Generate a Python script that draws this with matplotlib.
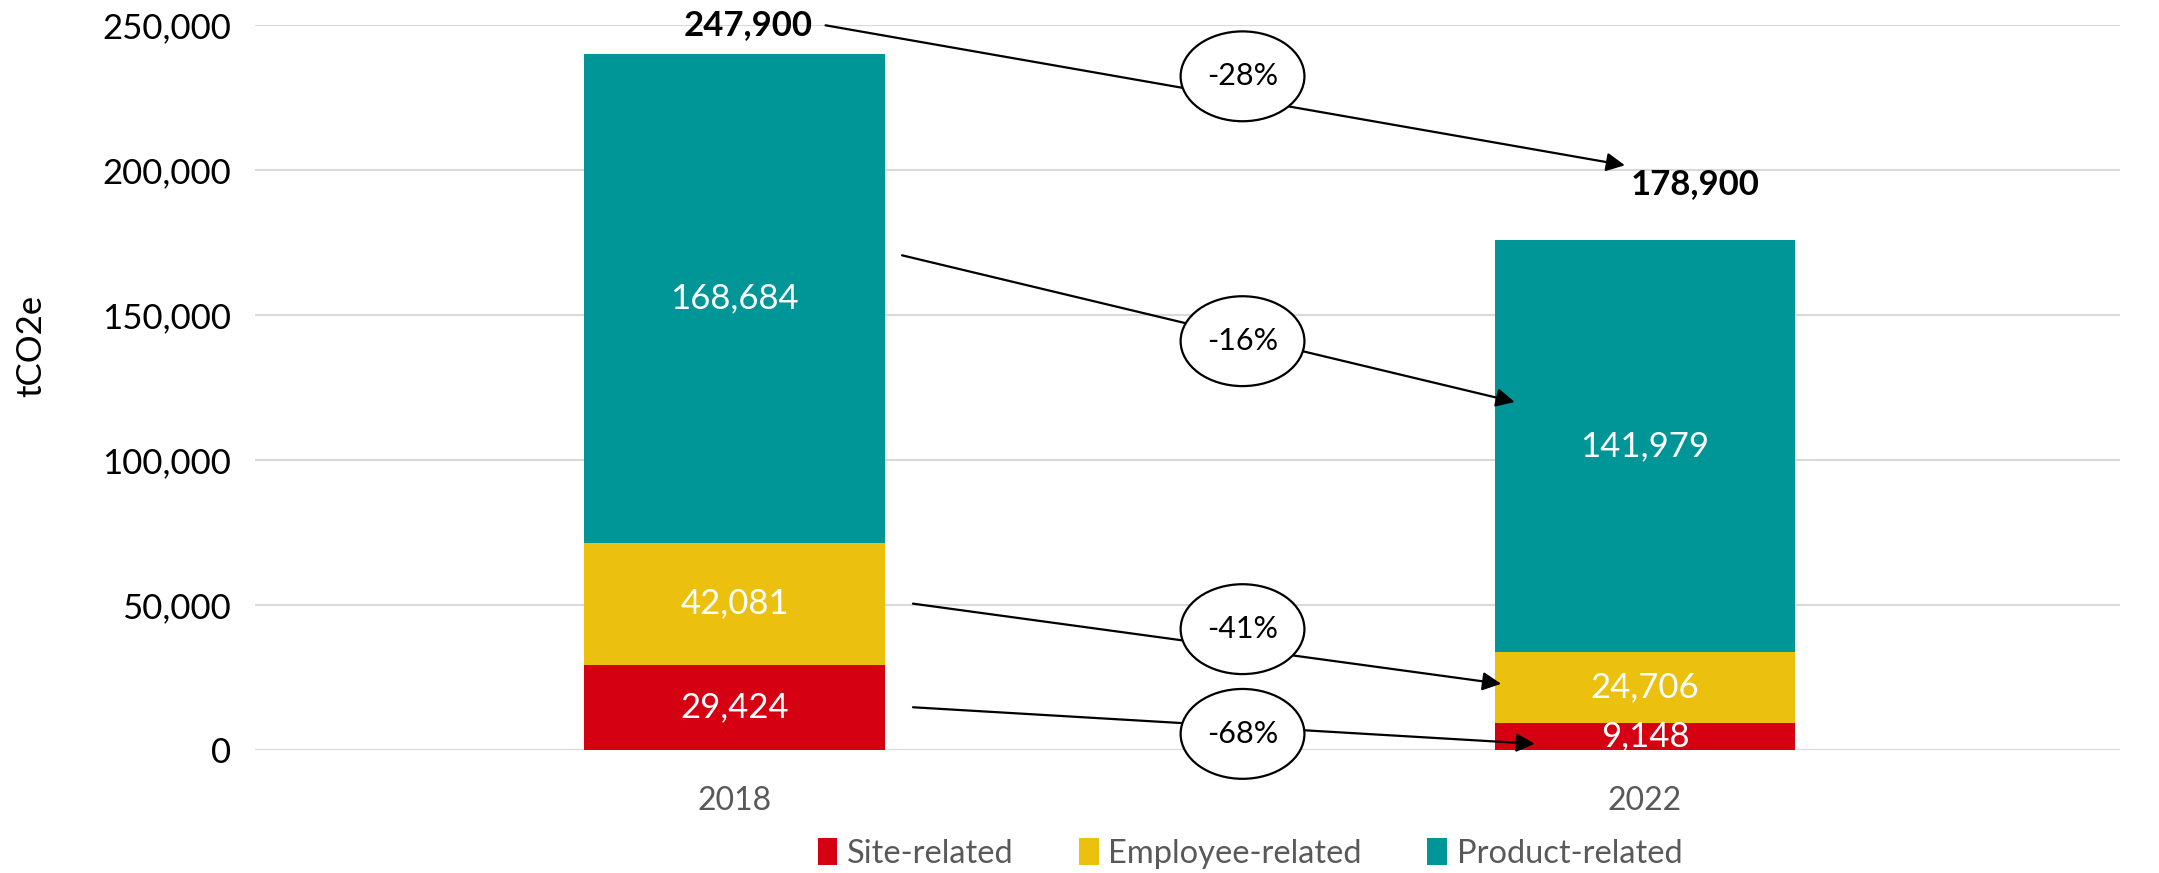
import numpy as np
import matplotlib
matplotlib.use('Agg')
import matplotlib.pyplot as plt
from matplotlib.patches import Ellipse

plt.rcParams['font.family'] = ['Lato', 'DejaVu Sans']

years = ['2018', '2022']
site = [29424, 9148]
employee = [42081, 24706]
product = [168684, 141979]
totals = [247900, 178900]
changes = ['-28%', '-16%', '-41%', '-68%']

series = [('Site-related', site, '#D50012'),
          ('Employee-related', employee, '#EBC00F'),
          ('Product-related', product, '#009597')]

fig = plt.figure(figsize=(21.59, 8.73), dpi=100)
ax = fig.add_axes([0.118, 0.141, 0.864, 0.830])

x = np.arange(len(years))
w = 0.33
bottom = np.zeros(len(years))
centers = {}
for name, vals, col in series:
    vals = np.array(vals, dtype=float)
    ax.bar(x, vals, w, bottom=bottom, color=col, label=name, zorder=2)
    centers[name] = bottom + vals / 2
    for i in range(len(years)):
        ax.text(x[i], bottom[i] + vals[i] / 2, f'{int(vals[i]):,}', color='white',
                fontsize=25, ha='center', va='center', zorder=3, clip_on=True)
    bottom = bottom + vals

# totals above bars
tot_off = [(0.015, 10000), (0.055, 19500)]
for i in range(len(years)):
    ax.text(x[i] + tot_off[i][0], bottom[i] + tot_off[i][1], f'{totals[i]:,}',
            fontsize=25, fontweight='bold', ha='center', va='center', zorder=4)

# change arrows: (x0, y0) -> (x1, y1)
arrows = [((0.10, 250000), (0.978, 201700)),
          ((0.184, centers['Product-related'][0] + 14800), (0.857, centers['Product-related'][1] + 15200)),
          ((0.196, centers['Employee-related'][0]), (0.842, centers['Employee-related'][1] + 1300)),
          ((0.196, centers['Site-related'][0]), (0.879, 2100))]
ell_off = [7600, -1500, 6700, -2500]
ex = 0.558
for (p0, p1), lab, off in zip(arrows, changes, ell_off):
    ax.annotate('', xy=p1, xytext=p0, annotation_clip=False,
                arrowprops=dict(arrowstyle='-|>', color='black', lw=1.6,
                                mutation_scale=28, shrinkA=0, shrinkB=0),
                zorder=5)
    t = (ex - p0[0]) / (p1[0] - p0[0])
    ey = p0[1] + t * (p1[1] - p0[1]) + off
    ax.add_patch(Ellipse((ex, ey), 0.136, 31000, facecolor='white',
                         edgecolor='black', lw=1.6, zorder=6, clip_on=False))
    ax.text(ex, ey, lab, fontsize=22, ha='center', va='center', zorder=7)

ax.set_xlim(-0.527, 1.522)
ax.set_ylim(0, 250000)
ax.set_yticks(np.arange(0, 250001, 50000))
ax.yaxis.set_major_formatter(matplotlib.ticker.FuncFormatter(lambda v, p: f'{int(v):,}'))
ax.set_xticks(x)
ax.set_xticklabels(years)
ax.grid(axis='y', color='#D9D9D9', lw=1.5, zorder=0)
ax.set_axisbelow(True)
for s in ax.spines.values():
    s.set_visible(False)
ax.tick_params(axis='y', length=0, labelsize=25, pad=17, labelcolor='black')
ax.tick_params(axis='x', length=0, labelsize=23, pad=26, labelcolor='#595959')
ax.set_ylabel('tCO2e', fontsize=25)
ax.yaxis.set_label_coords(-0.111, 0.557)

fig.legend(loc='center', bbox_to_anchor=(0.579, 0.022), ncol=3, frameon=False,
           fontsize=23.5, handlelength=0.6, handleheight=0.9, handletextpad=0.3,
           columnspacing=2.0, labelcolor='#595959')

fig.savefig('out.png', dpi=100)
